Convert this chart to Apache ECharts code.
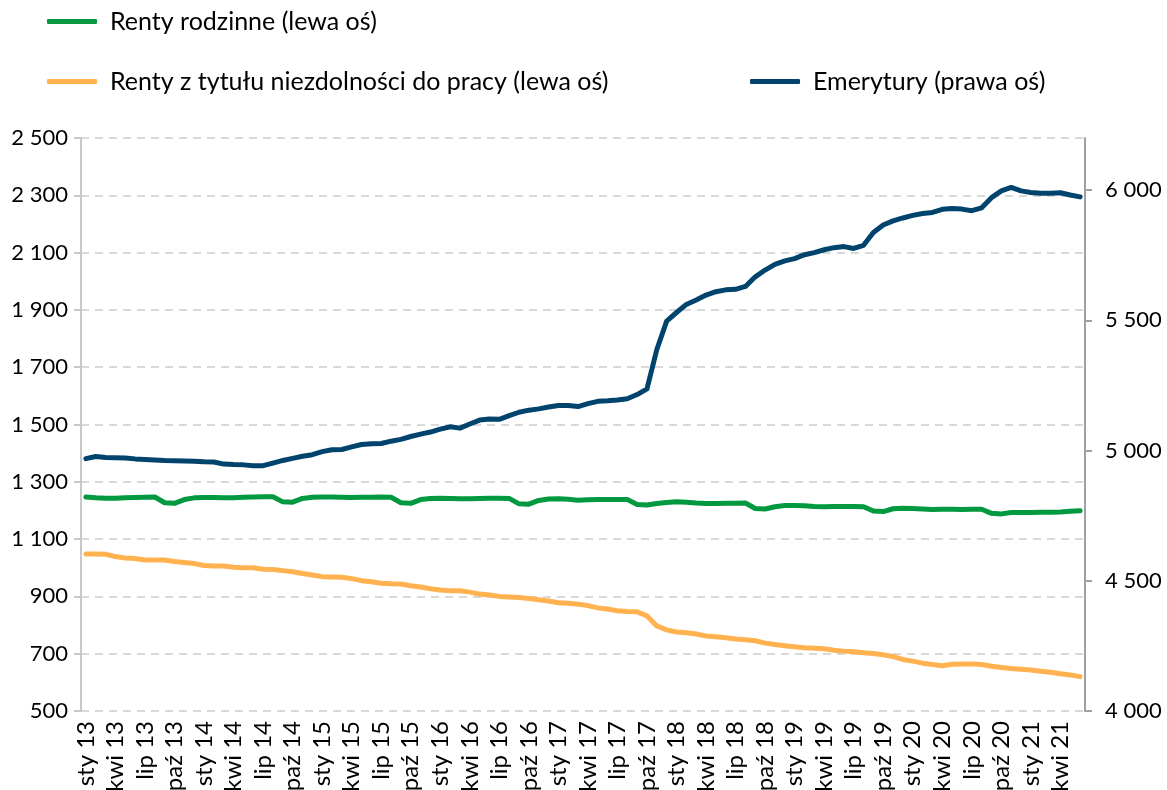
<!DOCTYPE html>
<html>
<head>
<meta charset="utf-8">
<script src="https://cdn.jsdelivr.net/npm/echarts/dist/echarts.min.js"></script>
<style>
  html, body { margin: 0; padding: 0; background: #fff; }
  #chart { width: 1167px; height: 790px; }
</style>
</head>
<body>
<div id="chart"></div>
<script>
// miesiace: sty 13 ... cze 21
const monthNames = ["sty", "lut", "mar", "kwi", "maj", "cze", "lip", "sie", "wrz", "paź", "lis", "gru"];
const years = [13, 14, 15, 16, 17, 18, 19, 20, 21];
const lastYearMonths = 6;

const rentyRodzinne = [
  1247, 1244, 1243, 1243, 1244, 1245, 1246, 1247, 1227, 1225, 1238, 1244,
  1245, 1245, 1244, 1244, 1246, 1247, 1248, 1248, 1230, 1229, 1242, 1246,
  1247, 1247, 1246, 1245, 1246, 1246, 1247, 1246, 1227, 1225, 1238, 1242,
  1243, 1242, 1241, 1241, 1242, 1243, 1243, 1242, 1223, 1222, 1235, 1240,
  1241, 1239, 1236, 1237, 1238, 1238, 1238, 1238, 1221, 1219, 1224, 1228,
  1230, 1229, 1226, 1224, 1224, 1225, 1225, 1226, 1207, 1205, 1213, 1217,
  1217, 1216, 1214, 1213, 1214, 1214, 1214, 1213, 1198, 1196, 1206, 1208,
  1207, 1205, 1203, 1204, 1204, 1203, 1204, 1204, 1190, 1188, 1193, 1193,
  1193, 1194, 1194, 1195, 1197, 1199
];

const rentyNiezdolnosc = [
  1048, 1048, 1047, 1039, 1034, 1032, 1027, 1027, 1027, 1022, 1018, 1015,
  1008, 1006, 1006, 1002, 1000, 1000, 995, 994, 990, 986, 980, 975,
  969, 968, 967, 962, 955, 951, 946, 944, 943, 937, 933, 927,
  922, 920, 920, 915, 908, 905, 900, 898, 896, 893, 888, 884,
  878, 876, 873, 868, 860, 856, 850, 847, 846, 832, 797, 783,
  776, 773, 769, 762, 759, 756, 751, 749, 745, 737, 732, 728,
  724, 721, 719, 717, 712, 709, 707, 703, 701, 696, 690, 680,
  674, 667, 662, 658, 663, 664, 664, 662, 656, 652, 648, 646,
  643, 639, 635, 630, 626, 620
];

const emerytury = [
  4969, 4977, 4973, 4972, 4971, 4968, 4966, 4964, 4962, 4961, 4960, 4959,
  4957, 4956, 4948, 4946, 4945, 4942, 4942, 4952, 4962, 4970, 4978, 4984,
  4996, 5003, 5004, 5014, 5023, 5026, 5027, 5036, 5043, 5054, 5063, 5071,
  5082, 5091, 5086, 5102, 5117, 5121, 5120, 5134, 5147, 5155, 5160, 5167,
  5173, 5173, 5169, 5180, 5189, 5191, 5194, 5199, 5215, 5237, 5388, 5497,
  5530, 5561, 5578, 5597, 5610, 5617, 5619, 5630, 5667, 5693, 5715, 5728,
  5737, 5752, 5760, 5771, 5779, 5783, 5776, 5788, 5837, 5866, 5882, 5893,
  5903, 5910, 5914, 5926, 5929, 5927, 5921, 5932, 5971, 5997, 6010, 5997,
  5991, 5988, 5988, 5990, 5981, 5974
];

const seriesNames = [
  "Renty rodzinne (lewa oś)",
  "Renty z tytułu niezdolności do pracy (lewa oś)",
  "Emerytury (prawa oś)"
];

const categories = [];
years.forEach((y, i) => {
  const n = i === years.length - 1 ? lastYearMonths : 12;
  for (let m = 0; m < n; m++) categories.push(monthNames[m] + " " + y);
});

const fontFamily = "Lato, 'Open Sans', sans-serif";
const fmt = v => String(v).replace(/\B(?=(\d{3})+(?!\d))/g, " ");

const legendBase = {
  icon: "roundRect",
  itemWidth: 50,
  itemHeight: 5,
  itemGap: 0,
  padding: 0,
  textStyle: { fontFamily: fontFamily, fontSize: 25, color: "#000", padding: [0, 0, 0, 8] },
  selectedMode: false
};

const chart = echarts.init(document.getElementById("chart"));
const option = {
  animation: false,
  backgroundColor: "#fff",
  legend: [
    Object.assign({}, legendBase, { left: 47, top: 9, data: [seriesNames[0]] }),
    Object.assign({}, legendBase, { left: 47, top: 69, data: [seriesNames[1]] }),
    Object.assign({}, legendBase, { left: 750, top: 69, data: [seriesNames[2]] })
  ],
  // etykiety osi x sa przyciete dolem, jak w oryginale
  grid: { left: 81, right: 82, top: 138, bottom: 79, outerBoundsMode: "none", containLabel: false },
  xAxis: {
    type: "category",
    data: categories,
    boundaryGap: true,
    axisLine: { show: false },
    axisTick: { show: false },
    axisLabel: {
      interval: 2,
      rotate: 90,
      margin: 10,
      color: "#000",
      fontFamily: fontFamily,
      fontSize: 24
    }
  },
  yAxis: [
    {
      type: "value",
      min: 500,
      max: 2500,
      interval: 200,
      axisLine: { show: true, lineStyle: { color: "#c8c8c8", width: 2 } },
      axisTick: { show: true, length: 7, lineStyle: { color: "#c8c8c8", width: 2 } },
      axisLabel: {
        color: "#000",
        fontFamily: fontFamily,
        fontSize: 22,
        margin: 13,
        formatter: fmt
      },
      splitLine: { lineStyle: { color: "#d9d9d9", width: 2, type: [8, 6] } }
    },
    {
      type: "value",
      min: 4000,
      max: 6200,
      interval: 500,
      position: "right",
      axisLine: { show: true, lineStyle: { color: "#a0a0a0", width: 2 } },
      axisTick: { show: true, length: 7, lineStyle: { color: "#a0a0a0", width: 2 } },
      axisLabel: {
        color: "#000",
        fontFamily: fontFamily,
        fontSize: 22,
        margin: 20,
        showMaxLabel: false,
        formatter: fmt
      },
      splitLine: { show: false }
    }
  ],
  series: [
    {
      name: seriesNames[0],
      type: "line",
      yAxisIndex: 0,
      data: rentyRodzinne,
      showSymbol: false,
      color: "#00993f",
      lineStyle: { width: 5, cap: "round", join: "round" }
    },
    {
      name: seriesNames[1],
      type: "line",
      yAxisIndex: 0,
      data: rentyNiezdolnosc,
      showSymbol: false,
      color: "#ffb24f",
      lineStyle: { width: 5, cap: "round", join: "round" }
    },
    {
      name: seriesNames[2],
      type: "line",
      yAxisIndex: 1,
      data: emerytury,
      showSymbol: false,
      color: "#00446e",
      lineStyle: { width: 5, cap: "round", join: "round" }
    }
  ]
};
chart.setOption(option);
</script>
</body>
</html>
